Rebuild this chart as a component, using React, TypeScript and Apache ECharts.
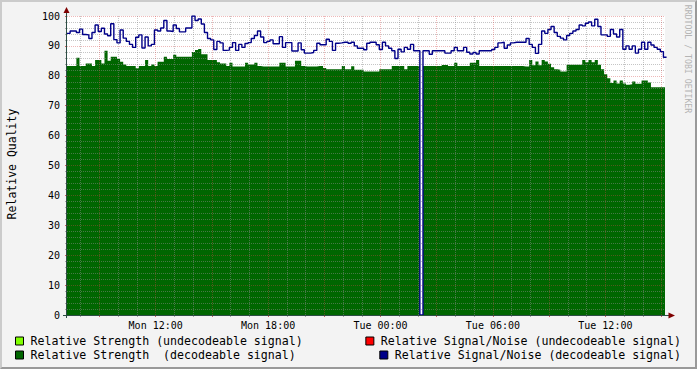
import React, { useEffect, useRef } from "react";
import * as echarts from "echarts";

// time axis in minutes since Mon 00:00
const X_MIN = 436;
const X_MAX = 2351;
const STEP_MIN = 10;

const SERIES_NAMES = [
  "Relative Strength (undecodeable signal)",
  "Relative Strength  (decodeable signal)",
  "Relative Signal/Noise (undecodeable signal)",
  "Relative Signal/Noise (decodeable signal)",
];

const strengthUndecodeable: number[] = [];
const snrUndecodeable: number[] = [];

const strengthDecodeable = [
  83.3, 83.3, 83.3, 86, 83.3, 83.3, 84.1, 84.1, 83.3, 85.3, 85.3, 84.1,
  88.4, 85, 86.4, 86.4, 85.6, 84.7, 83.8, 83.3, 83.3, 83.3, 82.5, 83.3,
  83.3, 85.3, 83.3, 83.8, 83.3, 84.7, 84.7, 86.4, 85.6, 85.6, 87, 86.4,
  86.4, 86.4, 86.4, 86.4, 88, 88.6, 89, 87.2, 87.2, 85.3, 85.3, 85.3,
  84.5, 84.1, 84.1, 83.3, 84.4, 83.1, 83.1, 83.1, 83.1, 84.4, 83.8, 83.8,
  84.4, 83.3, 83.1, 83.1, 83.1, 83.1, 83.1, 83.1, 84.4, 84.4, 83.1, 83.1,
  83.1, 85, 85, 83.3, 83.1, 83.1, 83.1, 83.1, 83.3, 83.3, 82.6, 82.2,
  82.2, 82.2, 82.2, 82.2, 83.3, 82.2, 82.2, 83.2, 82, 82, 82, 81.4,
  81.4, 81.4, 81.4, 81.4, 82.2, 82.2, 82.2, 82.2, 83.3, 83.3, 83.3, 83.3,
  82.2, 83.3, 83.3, 83.3, 83.3, 0, 83.3, 83.3, 83.3, 83.3, 83.3, 83.3,
  83.6, 83.6, 83.3, 83.3, 84.4, 83.3, 83.3, 83.3, 83.3, 84.4, 84.4, 85.3,
  83.3, 83.3, 83.3, 83.3, 83.3, 83.3, 83.3, 83.3, 83.3, 83.3, 83.3, 83.3,
  83.3, 83.3, 83.1, 83.1, 85.3, 83.5, 84.8, 83.5, 85.3, 84.8, 84, 82.9,
  82.2, 82, 81.4, 81.4, 83.7, 83.7, 83.7, 83.7, 83.7, 85.3, 84.5, 85.3,
  84.5, 85.3, 83.7, 82.2, 80.5, 79.2, 77.6, 78.4, 77.4, 78.4, 77.4, 77,
  77.2, 78.1, 77.3, 77.3, 78.4, 78.4, 77.8, 76.2, 76.2, 76.2, 76.2, 76.2,
];

const snrDecodeable = [
  94.2, 95, 95, 94.5, 95.6, 93.8, 93.7, 92.5, 94.5, 97, 94.8, 95.9,
  94, 93.4, 97.4, 92.1, 91, 95.3, 92.6, 91.5, 90.5, 89.5, 92.9, 93.7,
  89.3, 93, 90, 90.5, 95.3, 95, 96, 98.5, 95, 94.8, 97, 95.8,
  94.7, 94.7, 96, 96, 100, 98.5, 99, 97.3, 94.5, 92.5, 92, 88.8,
  91.5, 91, 88.5, 88.6, 89.5, 91.1, 88.5, 90.5, 89.5, 90.8, 91.1, 92.5,
  93.5, 95, 93, 91.1, 91.5, 92, 90.7, 90.7, 93.1, 89.5, 91.1, 91.1,
  88.3, 88.3, 91, 88.7, 87.6, 87.6, 87.8, 88.5, 90.9, 90.4, 90.4, 92.2,
  91.5, 88.5, 90.9, 91, 91.2, 91.2, 90.9, 91.2, 90, 89.2, 89.2, 88.7,
  90.9, 91.2, 91.2, 90.4, 88.8, 91.2, 90, 89.2, 88.4, 85.8, 88.9, 88,
  89.5, 88.9, 90.5, 88.4, 88.4, 0, 88.4, 88.4, 87.2, 88.4, 88.4, 88.4,
  88.4, 87.6, 87.6, 88.4, 89.5, 88.4, 88.4, 89.5, 87.9, 87.3, 87.8, 87.3,
  88.4, 88.4, 88.4, 88.4, 88.8, 89.5, 91, 91.2, 89.2, 90.3, 91, 91.2,
  91.2, 91.2, 91.2, 92.5, 90.5, 89.5, 87.5, 90.5, 95, 94.2, 95.5, 96.5,
  94.5, 93.2, 92.6, 92, 93.5, 94.2, 95, 95.5, 97, 96.7, 97.6, 98,
  96.7, 98.9, 96.5, 93.7, 93.7, 93.2, 95.5, 94, 93, 95.5, 88.9, 90,
  88.9, 90, 87.6, 88.9, 91.2, 88.9, 91.2, 90.3, 89.5, 88.9, 88.1, 86.2,
];

const xLabelValues = [720, 1080, 1440, 1800, 2160];
const xLabelTexts = ["Mon 12:00", "Mon 18:00", "Tue 00:00", "Tue 06:00", "Tue 12:00"];
const xMinorTicks = [
  480, 600, 660, 780, 840, 960, 1020, 1140, 1200, 1320, 1380, 1500, 1560,
  1680, 1740, 1860, 1920, 2040, 2100, 2220, 2280,
];
const xMajorTicks = [540, 720, 900, 1080, 1260, 1440, 1620, 1800, 1980, 2160, 2340];
const yMinorTicks = [
  2, 4, 6, 8, 12, 14, 16, 18, 22, 24, 26, 28, 32, 34, 36, 38, 42, 44, 46, 48,
  52, 54, 56, 58, 62, 64, 66, 68, 72, 74, 76, 78, 82, 84, 86, 88, 92, 94, 96, 98,
];

const MONO = "DejaVu Sans Mono";
const GRID_COLOR = "rgba(140,140,140,0.5)";
const MGRID_COLOR = "rgba(210,70,70,0.38)";

function toPoints(values: number[]) {
  const pts = values.map((v, i) => [X_MIN + i * STEP_MIN, v]);
  if (values.length) pts.push([X_MIN + values.length * STEP_MIN, values[values.length - 1]]);
  return pts;
}

export default function App() {
  const ref = useRef<HTMLDivElement>(null);

  useEffect(() => {
    if (!ref.current) return;
    const chart = echarts.init(ref.current, undefined, { renderer: "svg" });

    const legendBase = {
      orient: "horizontal",
      padding: 0,
      itemWidth: 8,
      itemHeight: 8,
      icon: "rect",
      selectedMode: false,
      itemStyle: { borderColor: "#000", borderWidth: 1 },
      textStyle: { fontFamily: MONO, fontSize: 11.6, color: "#000", lineHeight: 14, padding: [0, 0, 0, 2] },
    };

    const option: any = {
      animation: false,
      backgroundColor: "transparent",
      grid: {
        left: 67,
        top: 16,
        width: 598,
        height: 299,
        show: true,
        backgroundColor: "#ffffff",
        borderWidth: 0,
        containLabel: false,
        outerBoundsMode: "none",
      },
      legend: [
        { ...legendBase, data: [SERIES_NAMES[0]], left: 15, top: 334 },
        { ...legendBase, data: [SERIES_NAMES[1]], left: 15, top: 348 },
        { ...legendBase, data: [SERIES_NAMES[2]], right: 16, top: 334 },
        { ...legendBase, data: [SERIES_NAMES[3]], right: 16, top: 348 },
      ],
      xAxis: [
        {
          type: "value",
          min: X_MIN,
          max: X_MAX,
          position: "bottom",
          axisLine: { show: false },
          axisTick: { show: false },
          splitLine: { show: false },
          axisLabel: {
            customValues: xLabelValues,
            formatter: (v: number) => {
              const i = xLabelValues.indexOf(v);
              return i >= 0 ? xLabelTexts[i] : "";
            },
            margin: 5,
            fontFamily: MONO,
            fontSize: 10,
            color: "#000",
          },
        },
        {
          type: "value",
          min: X_MIN,
          max: X_MAX,
          position: "bottom",
          z: 3,
          axisLine: { show: false },
          axisLabel: { show: false },
          axisTick: { show: true, customValues: xMinorTicks, length: 2, lineStyle: { color: "#a8a8a8" } },
          splitLine: { show: true, lineStyle: { color: GRID_COLOR, width: 1, type: [1, 1] } },
        },
        {
          type: "value",
          min: X_MIN,
          max: X_MAX,
          position: "bottom",
          z: 3,
          axisLine: { show: false },
          axisLabel: { show: false },
          axisTick: { show: true, customValues: xMajorTicks, length: 2, lineStyle: { color: "#d06060" } },
          splitLine: { show: true, lineStyle: { color: MGRID_COLOR, width: 1, type: [1, 1] } },
        },
      ],
      yAxis: [
        {
          type: "value",
          min: 0,
          max: 100,
          interval: 10,
          position: "left",
          z: 3,
          axisLine: { show: false },
          axisTick: { show: true, length: 2, lineStyle: { color: "#d06060" } },
          axisLabel: { margin: 7, fontFamily: MONO, fontSize: 10, color: "#000" },
          splitLine: { show: true, lineStyle: { color: MGRID_COLOR, width: 1, type: [1, 1] } },
        },
        {
          type: "value",
          min: 0,
          max: 100,
          interval: 2,
          position: "left",
          z: 3,
          axisLine: { show: false },
          axisLabel: { show: false },
          axisTick: { show: true, customValues: yMinorTicks, length: 2, lineStyle: { color: "#a8a8a8" } },
          splitLine: { show: true, lineStyle: { color: GRID_COLOR, width: 1, type: [1, 1] } },
        },
      ],
      series: [
        {
          name: SERIES_NAMES[1],
          type: "line",
          xAxisIndex: 0,
          yAxisIndex: 0,
          data: toPoints(strengthDecodeable),
          step: "end",
          symbol: "none",
          color: "#006600",
          itemStyle: { color: "#006600" },
          lineStyle: { width: 0, color: "#006600" },
          areaStyle: { color: "#006600", opacity: 1 },
          z: 2,
          silent: true,
        },
        {
          name: SERIES_NAMES[0],
          type: "line",
          xAxisIndex: 0,
          yAxisIndex: 0,
          data: toPoints(strengthUndecodeable),
          step: "end",
          symbol: "none",
          color: "#80FF00",
          itemStyle: { color: "#80FF00" },
          lineStyle: { width: 0, color: "#80FF00" },
          areaStyle: { color: "#80FF00", opacity: 1 },
          z: 2,
          silent: true,
        },
        {
          name: SERIES_NAMES[2],
          type: "line",
          xAxisIndex: 0,
          yAxisIndex: 0,
          data: toPoints(snrUndecodeable),
          step: "end",
          symbol: "none",
          color: "#FF0000",
          itemStyle: { color: "#FF0000" },
          lineStyle: { width: 1, color: "#FF0000" },
          z: 4,
          silent: true,
        },
        {
          name: SERIES_NAMES[3],
          type: "line",
          xAxisIndex: 0,
          yAxisIndex: 0,
          data: toPoints(snrDecodeable),
          step: "end",
          symbol: "none",
          color: "#000088",
          itemStyle: { color: "#000088" },
          lineStyle: { width: 1.4, color: "#000088" },
          z: 4,
          silent: true,
        },
      ],
      graphic: [
        {
          type: "line",
          z: 20,
          silent: true,
          shape: { x1: 66.5, y1: 318, x2: 66.5, y2: 12 },
          style: { stroke: "#2C4D43", lineWidth: 1 },
        },
        {
          type: "line",
          z: 20,
          silent: true,
          shape: { x1: 63, y1: 315.5, x2: 670, y2: 315.5 },
          style: { stroke: "#2C4D43", lineWidth: 1 },
        },
        {
          type: "polygon",
          z: 21,
          silent: true,
          shape: { points: [[63.5, 13], [69.5, 13], [66.5, 7]] },
          style: { fill: "#7F0000" },
        },
        {
          type: "polygon",
          z: 21,
          silent: true,
          shape: { points: [[668.5, 312.5], [668.5, 318.5], [675, 315.5]] },
          style: { fill: "#7F0000" },
        },
        {
          type: "text",
          z: 20,
          silent: true,
          x: 12,
          y: 164,
          rotation: Math.PI / 2,
          style: {
            text: "Relative Quality",
            font: `11.5px "${MONO}"`,
            fill: "#000",
            textAlign: "center",
            textVerticalAlign: "middle",
            verticalAlign: "middle",
          },
        },
        {
          type: "text",
          z: 20,
          silent: true,
          x: 688,
          y: 59,
          rotation: -Math.PI / 2,
          style: {
            text: "RRDTOOL / TOBI OETIKER",
            font: `8.2px "${MONO}"`,
            fill: "#b4b4b4",
            textAlign: "center",
            textVerticalAlign: "middle",
            verticalAlign: "middle",
          },
        },
      ],
    };

    chart.setOption(option);
    return () => chart.dispose();
  }, []);

  return (
    <div style={{ position: "fixed", left: 0, top: 0, width: 697, height: 369 }}>
      <div
        style={{
          position: "absolute",
          left: 0,
          top: 0,
          width: 697,
          height: 369,
          boxSizing: "border-box",
          background: "#F3F3F3",
          borderTop: "2px solid #CBCBCB",
          borderLeft: "2px solid #CBCBCB",
          borderRight: "2px solid #999999",
          borderBottom: "2px solid #999999",
        }}
      />
      <div ref={ref} style={{ position: "absolute", left: 0, top: 0, width: 697, height: 369 }} />
    </div>
  );
}
